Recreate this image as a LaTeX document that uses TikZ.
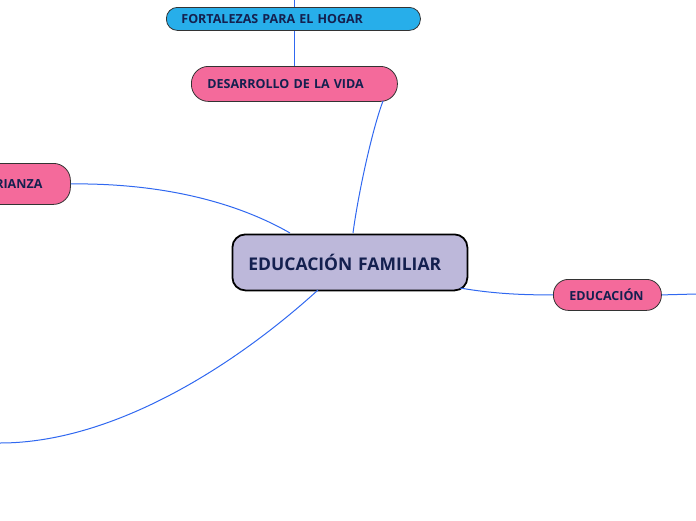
\documentclass[tikz,border=0pt]{standalone}
\usepackage{fontspec}
\setmainfont{Open Sans}
\definecolor{navy}{HTML}{14204F}
\definecolor{pinkf}{HTML}{F46A9B}
\definecolor{bluef}{HTML}{27AEEA}
\definecolor{mainf}{HTML}{BDB8DA}
\definecolor{linkc}{HTML}{3068F0}
\begin{document}
\begin{tikzpicture}[x=1pt,y=-1pt,
  pill/.style={draw=black!80,line width=0.8pt,font=\bfseries\fontsize{12.5}{14}\selectfont,text=navy,inner xsep=16pt,inner ysep=0pt,anchor=north west,align=left},
  link/.style={draw=linkc,line width=1pt}]
\useasboundingbox (0,0) rectangle (696,520);
\clip (0,0) rectangle (696,520);
% main
\node[draw=black,line width=1.8pt,rounded corners=13pt,fill=mainf,text width=203pt,minimum height=56pt,anchor=north west,font=\bfseries\fontsize{17.5}{20}\selectfont,text=navy,inner xsep=16pt,inner ysep=0pt,align=left] (main) at (231.5,233.5) {EDUCACIÓN FAMILIAR};
\node[pill,fill=pinkf,text width=174pt,minimum height=35pt,rounded corners=17pt] (des) at (191,66) {DESARROLLO DE LA VIDA};
\node[pill,fill=bluef,text width=224pt,minimum height=23pt,rounded corners=11pt,inner xsep=15pt] (fort) at (166,7) {FORTALEZAS PARA EL HOGAR};
\node[pill,fill=pinkf,text width=67pt,minimum height=41pt,rounded corners=17pt] (cri) at (-29,163) {CRIANZA};
\node[pill,fill=pinkf,text width=76pt,minimum height=31pt,rounded corners=15pt] (edu) at (553,279) {EDUCACIÓN};
\coordinate (top) at (294,0);
\coordinate (left) at (0,443);
\coordinate (right) at (696,294);
% links
\draw[link] (top) -- (fort.north -| top);
\draw[link] (fort.south -| top) -- (des.north -| top);
\draw[link] (383,101) .. controls (372,130) and (358,195) .. (353,233);
\draw[link] (cri.east) .. controls (180,183) and (250,210) .. (290,233);
\draw[link] (318,290) .. controls (230,370) and (110,443) .. (left);
\draw[link] (460,288) .. controls (495,294) and (525,295) .. (edu.west);
\draw[link] (edu.east) -- (right);
\end{tikzpicture}
\end{document}
